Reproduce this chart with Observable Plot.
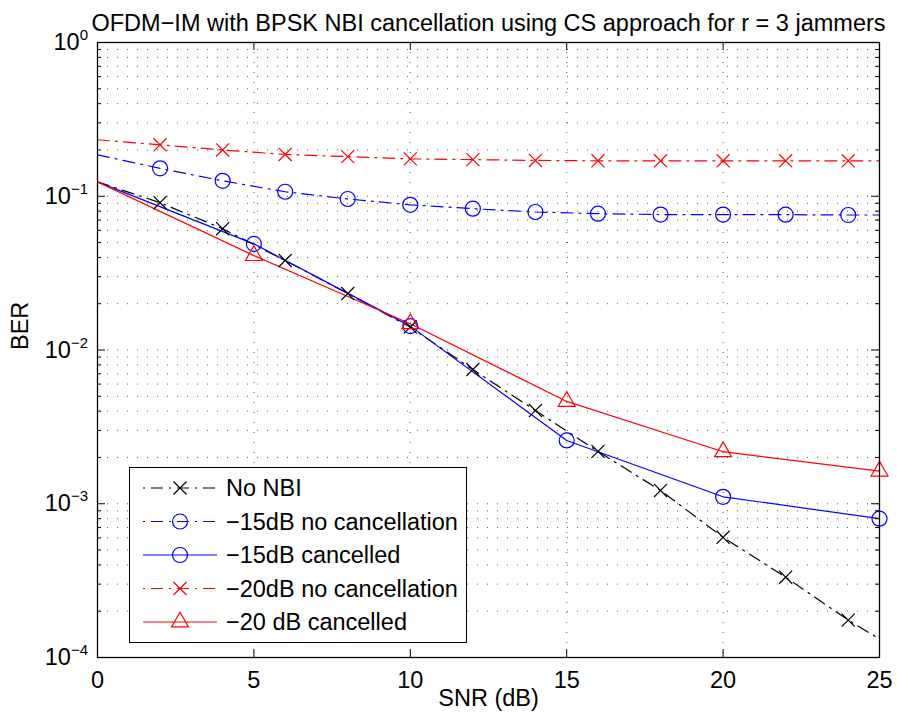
<!DOCTYPE html>
<html><head><meta charset="utf-8">
<script src="https://cdn.jsdelivr.net/npm/d3@7"></script>
<script src="https://cdn.jsdelivr.net/npm/@observablehq/plot@0.6"></script>
<style>
body{margin:0;background:#fff;}
#wrap{position:relative;width:897px;height:721px;font-family:"Liberation Sans",Arial,Helvetica,sans-serif;}
#legend{position:absolute;left:129px;top:467px;width:338px;height:176px;box-sizing:border-box;border:1.3px solid #000;background:#fff;}
#legend svg{position:absolute;left:0;top:0;}
</style></head><body><div id="wrap"><div id="legend"></div></div><script>
// ---- data ----
const snrEven = [0, 2, 4, 6, 8, 10, 12, 14, 16, 18, 20, 22, 24, 25];
const snrFive = [0, 5, 10, 15, 20, 25];
const markerSnrEven = [2, 4, 6, 8, 10, 12, 14, 16, 18, 20, 22, 24];
const markerSnrFive = [5, 10, 15, 20, 25];
const berNoNBI     = [0.124, 0.0908, 0.0615, 0.0382, 0.0233, 0.0141, 0.00746, 0.00404, 0.00219, 0.00122, 0.000605, 0.000333, 0.000175, 0.000132];
const ber15NoCanc  = [0.186, 0.152, 0.126, 0.107, 0.096, 0.088, 0.083, 0.079, 0.077, 0.076, 0.076, 0.0759, 0.0755, 0.0755];
const ber15Canc    = [0.124, 0.049, 0.0143, 0.00258, 0.00111, 0.00080];
const ber20NoCanc  = [0.233, 0.216, 0.200, 0.187, 0.181, 0.175, 0.173, 0.171, 0.170, 0.170, 0.170, 0.170, 0.170, 0.170];
const ber20Canc    = [0.124, 0.0411, 0.0148, 0.00463, 0.00218, 0.00163];
const seriesNames  = ["No NBI", "\u221215dB no cancellation", "\u221215dB cancelled", "\u221220dB no cancellation", "\u221220 dB cancelled"];
const xTickValues  = [0, 5, 10, 15, 20, 25];
const yMajorTicks  = [1e-4, 1e-3, 1e-2, 1e-1, 1];
const yMinorTicks  = d3.merge([-4, -3, -2, -1].map(k => [2,3,4,5,6,7,8,9].map(m => m * Math.pow(10, k))));
const titleText = "OFDM\u2212IM with BPSK NBI cancellation using CS approach for r = 3 jammers";
const xLabel = "SNR (dB)";
const yLabel = "BER";

// ---- styles ----
const FONT = '"Liberation Sans", Arial, Helvetica, sans-serif';
const FS = 23.5;
const DASHDOT = "12,6,2,6";
const styles = [
  {color: "#000000", dash: DASHDOT, symbol: "times", r: 6},
  {color: "#0000ff", dash: DASHDOT, symbol: "circle", r: 7.5},
  {color: "#0000ff", dash: null, symbol: "circle", r: 7.5},
  {color: "#ff0000", dash: DASHDOT, symbol: "times", r: 6},
  {color: "#ff0000", dash: null, symbol: "triangle", r: 6.3}
];
const seriesData = [
  [snrEven, berNoNBI, markerSnrEven],
  [snrEven, ber15NoCanc, markerSnrEven],
  [snrFive, ber15Canc, markerSnrFive],
  [snrEven, ber20NoCanc, markerSnrEven],
  [snrFive, ber20Canc, markerSnrFive]
];
const series = seriesData.map(([snr, ber, mk], i) => ({
  name: seriesNames[i],
  rows: snr.map((x, j) => ({snr: x, ber: ber[j]})),
  markers: mk,
  ...styles[i]
}));

const W = 897, H = 721, ML = 97, MR = 18, MT = 42, MB = 64;
const PW = W - ML - MR, PH = H - MT - MB;

const lineMarks = series.map(s => Plot.line(s.rows, {
  x: "snr", y: "ber", stroke: s.color, strokeWidth: 1.2,
  strokeDasharray: s.dash || undefined
}));
const dotMarks = series.map(s => Plot.dot(s.rows.filter(d => s.markers.includes(d.snr)), {
  x: "snr", y: "ber", symbol: s.symbol, r: s.r, stroke: s.color, fill: "none", strokeWidth: 1.2
}));

const gridStyle = {stroke: "#000", strokeOpacity: 0.65, strokeWidth: 1, strokeDasharray: "1,9"};

const chart = Plot.plot({
  width: W, height: H,
  marginLeft: ML, marginRight: MR, marginTop: MT, marginBottom: MB,
  style: {fontFamily: FONT, background: "white", overflow: "visible"},
  x: {domain: [0, 25]},
  y: {type: "log", domain: [1e-4, 1]},
  marks: [
    Plot.ruleY(yMinorTicks.concat(yMajorTicks.slice(1, -1)), {y: d => d, ...gridStyle}),
    Plot.ruleX(xTickValues.slice(1, -1), {x: d => d, ...gridStyle}),
    ...lineMarks,
    ...dotMarks,
    Plot.frame({stroke: "#000", strokeWidth: 1.3}),
    // inward ticks
    Plot.tickY(yMajorTicks, {y: d => d, stroke: "#000", insetRight: PW - 8}),
    Plot.tickY(yMajorTicks, {y: d => d, stroke: "#000", insetLeft: PW - 8}),
    Plot.tickY(yMinorTicks, {y: d => d, stroke: "#000", insetRight: PW - 4}),
    Plot.tickY(yMinorTicks, {y: d => d, stroke: "#000", insetLeft: PW - 4}),
    Plot.tickX(xTickValues, {x: d => d, stroke: "#000", insetTop: PH - 8}),
    Plot.tickX(xTickValues, {x: d => d, stroke: "#000", insetBottom: PH - 8}),
    Plot.axisX(xTickValues, {tickSize: 0, tickPadding: 14, fontSize: FS, fill: "#000", label: null, tickFormat: d => String(d)}),
    Plot.axisY(yMajorTicks, {tickSize: 0, tickPadding: 9.5, fontSize: FS, fill: "#000", label: null,
      tickFormat: d => "10^" + Math.round(Math.log10(d))}),
    Plot.text([titleText], {text: d => d, frameAnchor: "top", dy: -28, fontSize: FS, fill: "#000"}),
    Plot.text([xLabel], {text: d => d, frameAnchor: "bottom", dy: 48, fontSize: FS, fill: "#000"}),
    Plot.text([yLabel], {text: d => d, frameAnchor: "left", dx: -77, rotate: -90, fontSize: FS, fill: "#000"})
  ]
});

// superscript exponents on y tick labels
const NS = "http://www.w3.org/2000/svg";
chart.querySelectorAll('[aria-label="y-axis tick label"] text').forEach(t => {
  const s = t.textContent;
  const e = s.split("^")[1];
  if (e === undefined) return;
  t.textContent = "10";
  const ts = document.createElementNS(NS, "tspan");
  ts.setAttribute("dy", "-10");
  ts.setAttribute("font-size", "15");
  ts.textContent = e.replace("-", "\u2212");
  t.appendChild(ts);
});

const wrap = document.getElementById("wrap");
wrap.insertBefore(chart, wrap.firstChild);

// ---- legend ----
const leg = d3.select("#legend").append("svg").attr("width", 336).attr("height", 174);
const symMap = {times: d3.symbolTimes, circle: d3.symbolCircle, triangle: d3.symbolTriangle};
series.forEach((s, i) => {
  const cy = 20 + 33.5 * i;
  const g = leg.append("g").attr("transform", `translate(0,${cy})`);
  g.append("line").attr("x1", 13).attr("x2", 87).attr("y1", 0).attr("y2", 0)
    .attr("stroke", s.color).attr("stroke-width", 1.2)
    .attr("stroke-dasharray", s.dash || null).attr("stroke-dashoffset", s.dash ? 18 : null);
  g.append("path").attr("d", d3.symbol(symMap[s.symbol], Math.PI * s.r * s.r)())
    .attr("transform", "translate(50,0)").attr("fill", "none").attr("stroke", s.color).attr("stroke-width", 1.2);
  g.append("text").attr("x", 96).attr("y", 0).attr("dy", "0.35em")
    .attr("font-family", FONT).attr("font-size", FS).attr("fill", "#000").text(s.name);
});
</script></body></html>
